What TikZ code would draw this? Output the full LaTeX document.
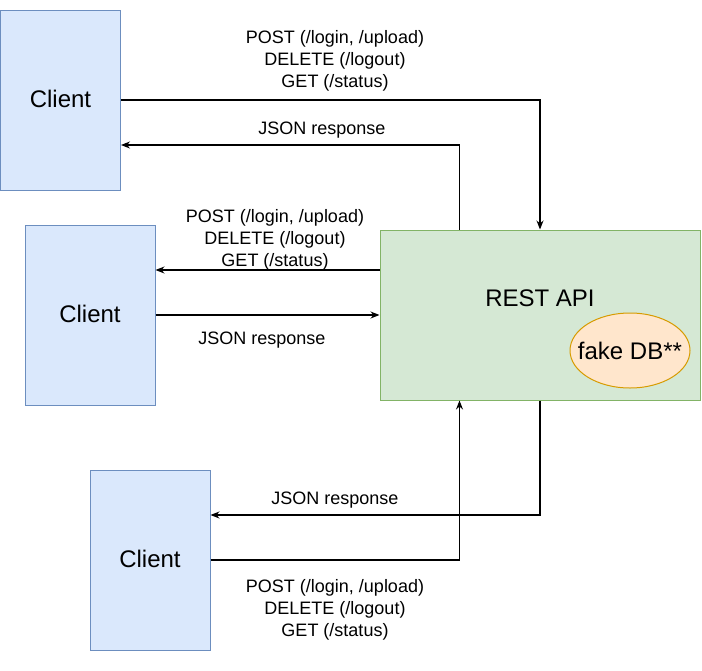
\documentclass[tikz,border=0pt]{standalone}
\usepackage{fontspec}
\setmainfont{Liberation Sans}
\usetikzlibrary{positioning,arrows.meta,shapes.geometric}
\definecolor{clientfill}{HTML}{DAE8FC}
\definecolor{clientline}{HTML}{6C8EBF}
\definecolor{apifill}{HTML}{D5E8D4}
\definecolor{apiline}{HTML}{82B366}
\definecolor{dbfill}{HTML}{FFE6CC}
\definecolor{dbline}{HTML}{D79B00}
\tikzset{
  clientbox/.style={draw=clientline,fill=clientfill,line width=1pt,minimum width=120pt,minimum height=180pt,inner sep=0pt,font=\fontsize{24}{29}\selectfont},
  apibox/.style={draw=apiline,fill=apifill,line width=1pt,minimum width=320pt,minimum height=170pt,inner sep=0pt},
  dbnode/.style={ellipse,draw=dbline,fill=dbfill,line width=1pt,minimum width=120pt,minimum height=75pt,inner sep=0pt,font=\fontsize{24}{29}\selectfont},
  flow/.style={line width=1.1pt,-{Stealth[length=9pt,width=7pt]}},
  lbl/.style={align=center,font=\fontsize{18}{22}\selectfont,inner sep=0pt}
}
\begin{document}
\begin{tikzpicture}[x=1pt,y=-1pt]
            \useasboundingbox (0,0) rectangle (702,670);
            \node[clientbox](ca) at (60.5,100){\raisebox{2pt}{Client}};
            \node[clientbox,minimum width=130pt](cb) at (90,315){\raisebox{3pt}{Client}};
            \node[clientbox](cc) at (150,560){\raisebox{3pt}{Client}};
            \node[apibox,label={[yshift=17pt,font=\fontsize{24}{29}\selectfont]center:REST API}](api) at (540,315){};
            \node[dbnode](db) at (630,350.5){\makebox[0pt]{fake DB**}};
            % requests and responses
            \draw[flow](ca.east) -| (api.north);
            \draw[flow]([xshift=80pt]api.north west) |- ([yshift=-45pt]ca.east);
            \draw[flow]([yshift=45pt]api.west) -- ([yshift=45pt]cb.east);
            \draw[flow](cb.east) -- (api.west);
            \draw[flow](api.south) |- ([yshift=45pt]cc.east);
            \draw[flow](cc.east) -| ([xshift=80pt]api.south west);
            % labels
            \node[lbl](la) at (335,61){POST (/login, /upload)\\DELETE (/logout)\\GET (/status)};
            \node[lbl](lb) at (322,130){JSON response};
            \node[lbl](lc) at (275,240){POST (/login, /upload)\\DELETE (/logout)\\GET (/status)};
            \node[lbl](ld) at (262,340){JSON response};
            \node[lbl](le) at (335,500){JSON response};
            \node[lbl](lf) at (335,610){POST (/login, /upload)\\DELETE (/logout)\\GET (/status)};
        \end{tikzpicture}
\end{document}
